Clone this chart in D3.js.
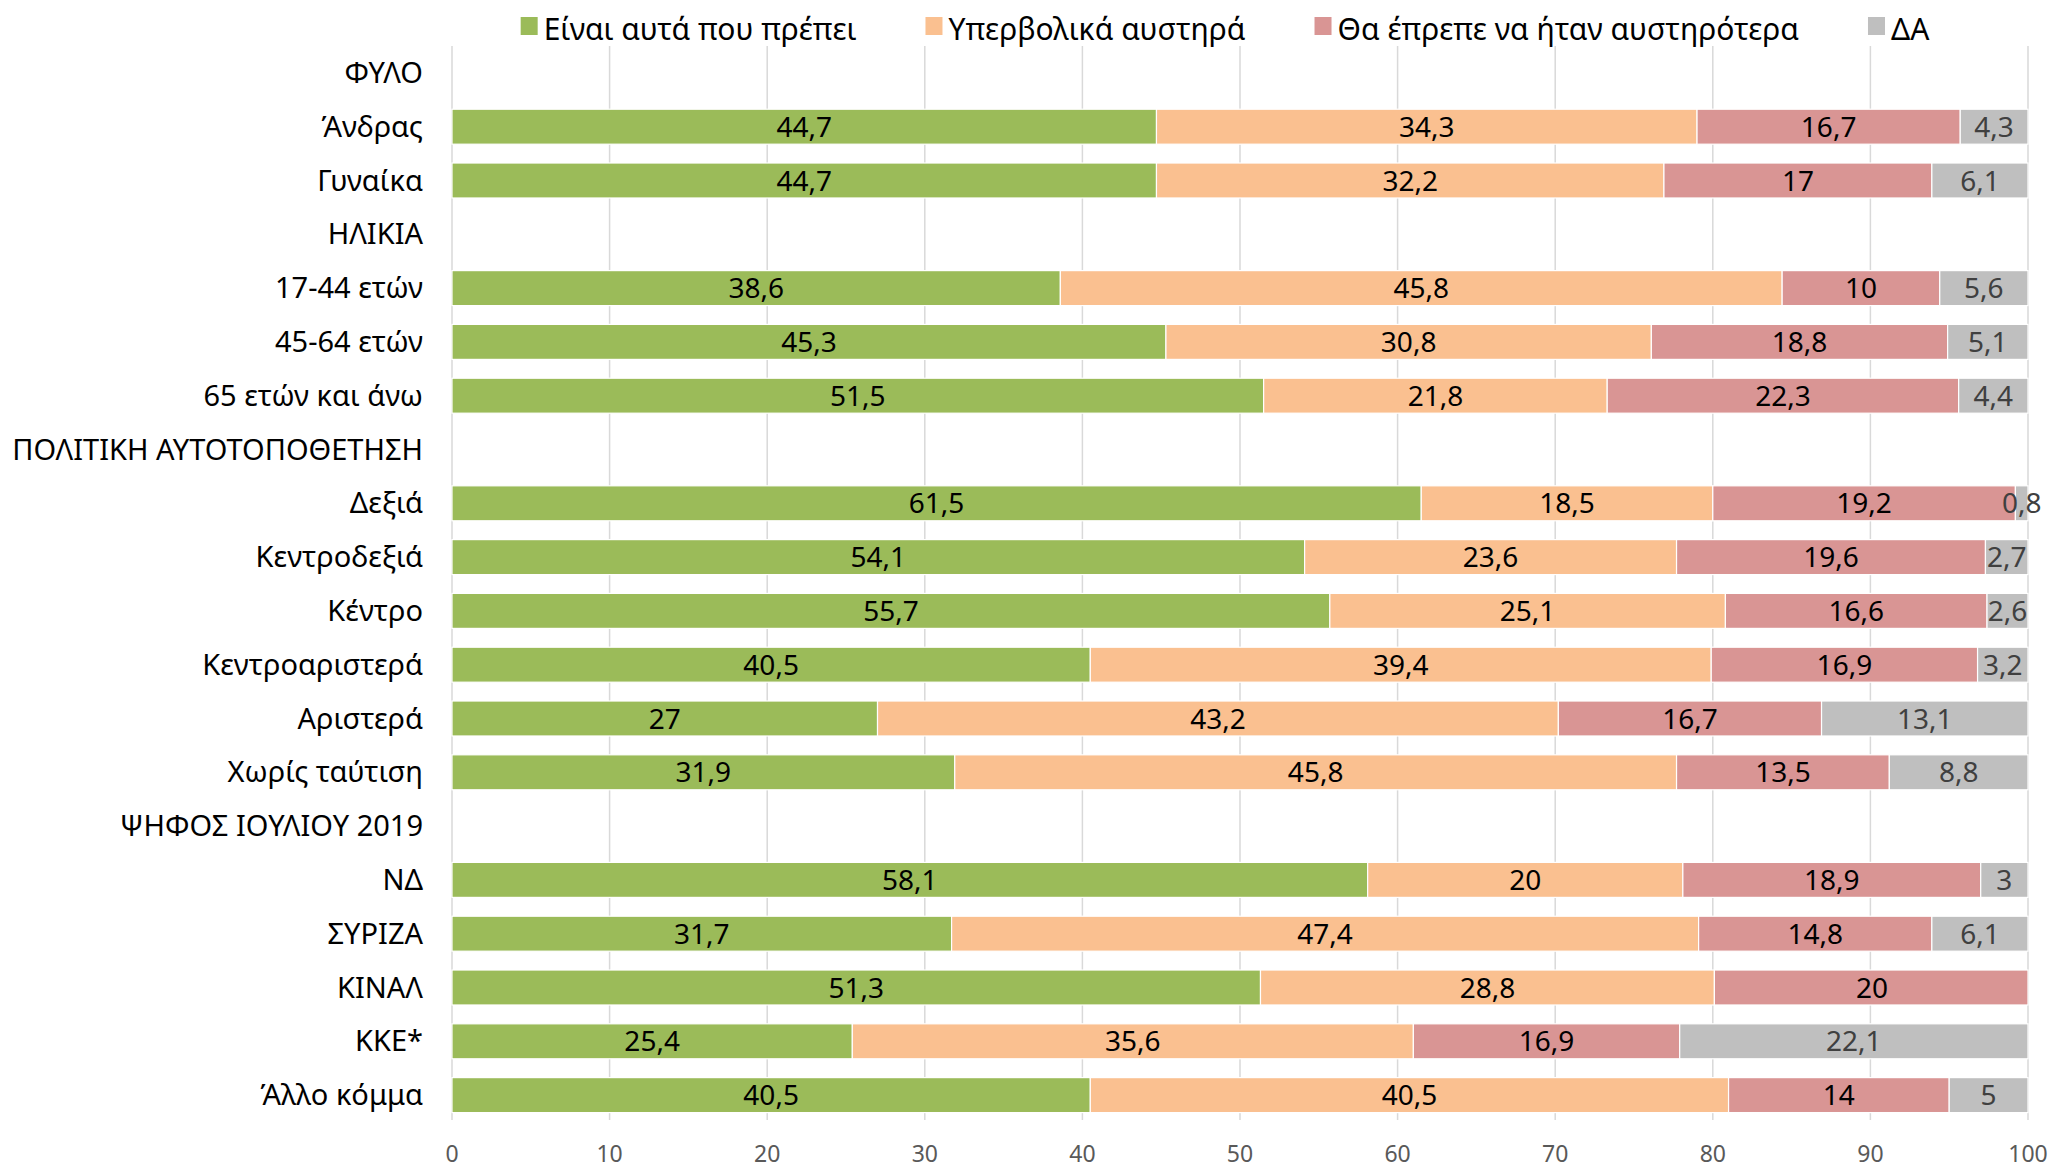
<!DOCTYPE html>
<html>
<head>
<meta charset="utf-8">
<script src="https://cdn.jsdelivr.net/npm/d3@7"></script>
<style>
  html, body { margin: 0; padding: 0; background: #fff; }
  svg text { font-family: "Noto Sans", "Open Sans", sans-serif; }
</style>
</head>
<body>
<svg id="chart" width="2052" height="1170"></svg>
<script>
const series = ["Είναι αυτά που πρέπει", "Υπερβολικά αυστηρά", "Θα έπρεπε να ήταν αυστηρότερα", "ΔΑ"];
const colors = ["#9BBB59", "#FAC090", "#D99594", "#BFBFBF"];
const labelColors = ["#000", "#000", "#000", "#404040"];

const categories = [
  "ΦΥΛΟ", "Άνδρας", "Γυναίκα",
  "ΗΛΙΚΙΑ", "17-44 ετών", "45-64 ετών", "65 ετών και άνω",
  "ΠΟΛΙΤΙΚΗ ΑΥΤΟΤΟΠΟΘΕΤΗΣΗ", "Δεξιά", "Κεντροδεξιά", "Κέντρο", "Κεντροαριστερά", "Αριστερά", "Χωρίς ταύτιση",
  "ΨΗΦΟΣ ΙΟΥΛΙΟΥ 2019", "ΝΔ", "ΣΥΡΙΖΑ", "ΚΙΝΑΛ", "ΚΚΕ*", "Άλλο κόμμα"
];

// one value per category, null = header row / no value
const proper   = [null, 44.7, 44.7, null, 38.6, 45.3, 51.5, null, 61.5, 54.1, 55.7, 40.5, 27,   31.9, null, 58.1, 31.7, 51.3, 25.4, 40.5];
const strict   = [null, 34.3, 32.2, null, 45.8, 30.8, 21.8, null, 18.5, 23.6, 25.1, 39.4, 43.2, 45.8, null, 20,   47.4, 28.8, 35.6, 40.5];
const stricter = [null, 16.7, 17,   null, 10,   18.8, 22.3, null, 19.2, 19.6, 16.6, 16.9, 16.7, 13.5, null, 18.9, 14.8, 20,   16.9, 14];
const dontKnow = [null, 4.3,  6.1,  null, 5.6,  5.1,  4.4,  null, 0.8,  2.7,  2.6,  3.2,  13.1, 8.8,  null, 3,    6.1,  null, 22.1, 5];

const xTicks = [0, 10, 20, 30, 40, 50, 60, 70, 80, 90, 100];

const values = [proper, strict, stricter, dontKnow];
const fmt = v => String(v).replace(".", ",");

const svg = d3.select("#chart");
const plot = {left: 452, right: 2028, top: 46, bottom: 1122};

const x = d3.scaleLinear().domain([0, 100]).range([plot.left, plot.right]);
const y = d3.scaleBand().domain(categories).range([plot.top, plot.bottom]).paddingInner(0.35).paddingOuter(0.175);

// gridlines
svg.append("g").selectAll("line").data(xTicks).enter().append("line")
  .attr("x1", d => x(d)).attr("x2", d => x(d))
  .attr("y1", plot.top).attr("y2", plot.bottom - 2)
  .attr("stroke", "#D9D9D9").attr("stroke-width", 1.5);

// x axis labels
svg.append("g").selectAll("text").data(xTicks).enter().append("text")
  .attr("x", d => x(d)).attr("y", 1162)
  .attr("text-anchor", "middle").attr("font-size", 23).attr("fill", "#595959")
  .text(d => d);

// category labels
svg.append("g").selectAll("text").data(categories).enter().append("text")
  .attr("x", 423).attr("y", d => y(d) + y.bandwidth() / 2 + 10)
  .attr("text-anchor", "end").attr("font-size", 29).attr("fill", "#000")
  .text(d => d);

// stacked segments
const segs = [];
categories.forEach((c, i) => {
  let acc = 0;
  values.forEach((arr, s) => {
    const v = arr[i];
    if (v == null) return;
    segs.push({cat: c, s, v, x0: acc, x1: Math.min(100, acc + v)});
    acc += v;
  });
});

const bars = svg.append("g");
bars.selectAll("rect").data(segs).enter().append("rect")
  .attr("x", d => x(d.x0)).attr("width", d => x(d.x1) - x(d.x0))
  .attr("y", d => y(d.cat)).attr("height", y.bandwidth())
  .attr("fill", d => colors[d.s])
  .attr("stroke", "#fff").attr("stroke-width", 1.2);

bars.selectAll("text").data(segs).enter().append("text")
  .attr("x", d => x((d.x0 + d.x0 + d.v) / 2))
  .attr("y", d => y(d.cat) + y.bandwidth() / 2 + 10)
  .attr("text-anchor", "middle").attr("font-size", 28)
  .attr("fill", d => labelColors[d.s])
  .text(d => fmt(d.v));

// legend
const legend = svg.append("g");
let lx = 0;
series.forEach((name, i) => {
  const item = legend.append("g").attr("transform", `translate(${lx},0)`);
  item.append("rect").attr("x", 0).attr("y", 17).attr("width", 17).attr("height", 18).attr("fill", colors[i]);
  const t = item.append("text").attr("x", 23).attr("y", 40).attr("font-size", 30).attr("fill", "#000").text(name);
  lx += 23 + t.node().getComputedTextLength() + 69;
});
const legendW = lx - 69;
legend.attr("transform", `translate(${1225 - legendW / 2},0)`);
</script>
</body>
</html>
